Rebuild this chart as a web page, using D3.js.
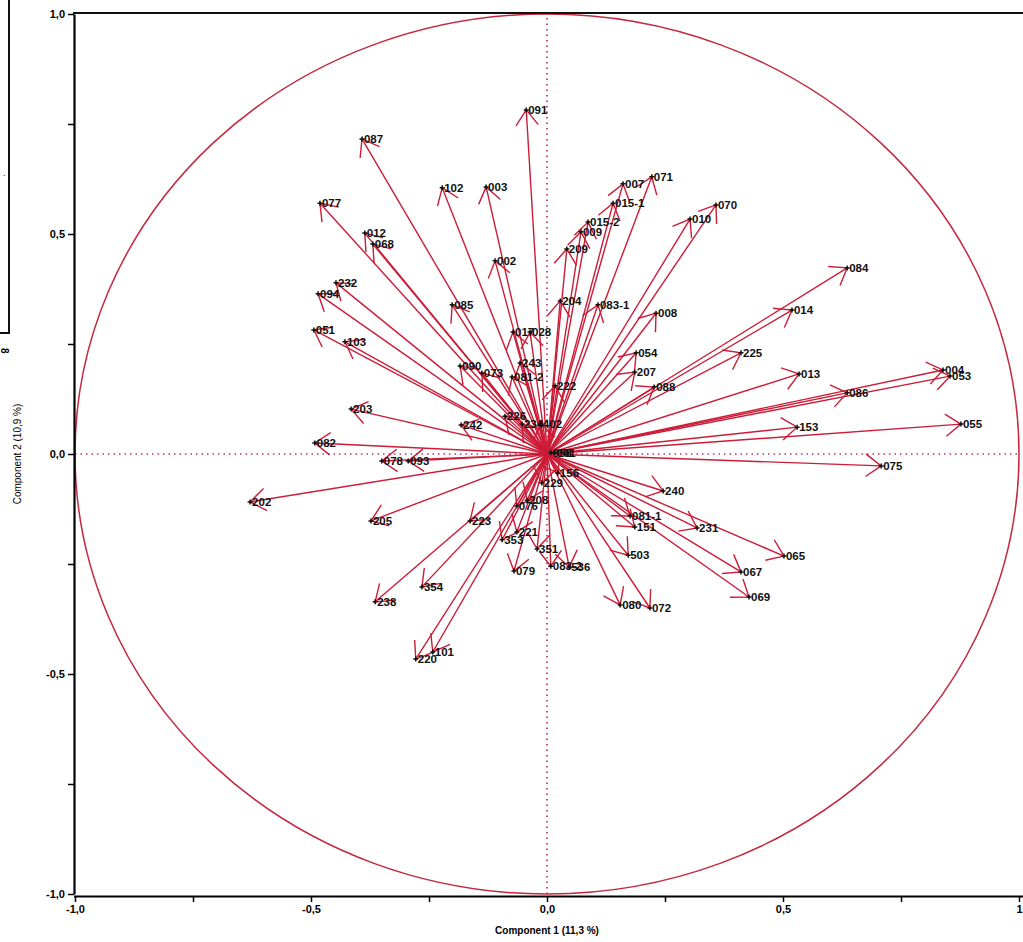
<!DOCTYPE html>
<html>
<head>
<meta charset="utf-8">
<script src="https://cdn.jsdelivr.net/npm/d3@7"></script>
<style>
  body { margin: 0; background: #fff; }
  svg { display: block; }
  .tick text { font-family: Arial, "Liberation Sans", sans-serif; font-weight: bold; font-size: 11px; }
</style>
</head>
<body>
<div id="chart"></div>
<script>
// loadings (component 1, component 2)
const labels = ['091', '087', '102', '003', '077', '012', '068', '002', '232', '094',
  '085', '051', '103', '017', '028', '090', '073', '243', '081-2', '222',
  '203', '242', '226', '234', '402', '082', '078', '093', '202', '205',
  '223', '208', '076', '221', '353', '351', '079', '083-2', '536', '354',
  '238', '220', '101', '229', '156', '240', '081-1', '151', '231', '503',
  '065', '067', '069', '080', '072', '075', '055', '153', '086', '004',
  '053', '013', '225', '014', '084', '008', '054', '207', '088', '083-1',
  '204', '209', '009', '015-2', '015-1', '007', '071', '010', '070', '058', '061'];
const pc1 = [-0.044, -0.392, -0.222, -0.129, -0.481, -0.386, -0.369, -0.110, -0.447, -0.485,
  -0.201, -0.494, -0.428, -0.072, -0.036, -0.184, -0.138, -0.057, -0.074, 0.017,
  -0.415, -0.182, -0.089, -0.053, -0.013, -0.492, -0.350, -0.294, -0.629, -0.373,
  -0.163, -0.042, -0.064, -0.064, -0.095, -0.021, -0.070, 0.008, 0.047, -0.265,
  -0.364, -0.278, -0.242, -0.011, 0.023, 0.246, 0.176, 0.186, 0.318, 0.172,
  0.502, 0.411, 0.428, 0.155, 0.218, 0.708, 0.877, 0.530, 0.636, 0.839,
  0.854, 0.534, 0.411, 0.519, 0.636, 0.231, 0.189, 0.186, 0.227, 0.108,
  0.028, 0.042, 0.072, 0.087, 0.140, 0.161, 0.222, 0.303, 0.358, 0.008, 0.016];
const pc2 = [0.782, 0.716, 0.605, 0.607, 0.570, 0.502, 0.477, 0.439, 0.389, 0.364,
  0.339, 0.282, 0.255, 0.277, 0.277, 0.200, 0.184, 0.207, 0.175, 0.155,
  0.102, 0.066, 0.086, 0.068, 0.068, 0.025, -0.016, -0.016, -0.109, -0.152,
  -0.152, -0.105, -0.118, -0.177, -0.195, -0.216, -0.266, -0.255, -0.257, -0.302,
  -0.336, -0.466, -0.450, -0.066, -0.043, -0.084, -0.141, -0.166, -0.168, -0.230,
  -0.232, -0.268, -0.325, -0.343, -0.350, -0.027, 0.068, 0.061, 0.139, 0.191,
  0.177, 0.182, 0.230, 0.327, 0.423, 0.320, 0.230, 0.186, 0.152, 0.339,
  0.348, 0.466, 0.505, 0.527, 0.570, 0.614, 0.630, 0.534, 0.566, 0.003, 0.003];

const xTicks = [-1, -0.75, -0.5, -0.25, 0, 0.25, 0.5, 0.75, 1];
const yTicks = [-1, -0.75, -0.5, -0.25, 0, 0.25, 0.5, 0.75, 1];
const xTickLabels = {'-1': '-1,0', '-0.5': '-0,5', '0': '0,0', '0.5': '0,5', '1': '1'};
const yTickLabels = {'-1': '-1,0', '-0.5': '-0,5', '0': '0,0', '0.5': '0,5', '1': '1,0'};

const width = 1023, height = 942;
const margin = { top: 14, right: 4, bottom: 48, left: 75 };
const red = '#cc1c38';

const svg = d3.select('#chart').append('svg')
  .attr('width', width)
  .attr('height', height);

const x = d3.scaleLinear().domain([-1, 1]).range([margin.left, width - margin.right]);
const y = d3.scaleLinear().domain([-1, 1]).range([height - margin.bottom, margin.top]);

// piece of the neighbouring panel cut off at the left edge
svg.append('path')
  .attr('d', 'M0,333H9V0')
  .attr('fill', 'none')
  .attr('stroke', '#111')
  .attr('stroke-width', 2);
svg.append('text').attr('x', 5).attr('y', 352)
  .attr('transform', 'rotate(90,5,348)')
  .style('font', 'bold 10px Arial, sans-serif').text('8');
svg.append('text').attr('x', 3).attr('y', 176)
  .style('font', '9px Arial, sans-serif').text('.');

// unit circle (ellipse in pixels because the scales differ)
svg.append('ellipse')
  .attr('cx', x(0)).attr('cy', y(0))
  .attr('rx', x(1) - x(0)).attr('ry', y(0) - y(1))
  .attr('fill', 'none')
  .attr('stroke', '#c4283f')
  .attr('stroke-width', 1.5);

// dotted origin lines
svg.append('line')
  .attr('x1', x(-1)).attr('x2', x(1)).attr('y1', y(0)).attr('y2', y(0))
  .attr('stroke', '#c0306a').attr('stroke-width', 1.7).attr('stroke-dasharray', '1.5,4');
svg.append('line')
  .attr('x1', x(0)).attr('x2', x(0)).attr('y1', y(-1)).attr('y2', y(1))
  .attr('stroke', '#c0306a').attr('stroke-width', 1.7).attr('stroke-dasharray', '1.5,4');

// axes
const xAxis = svg.append('g')
  .attr('transform', `translate(0,${y(-1) + 2})`)
  .call(d3.axisBottom(x).tickValues(xTicks).tickSize(6).tickSizeOuter(0)
    .tickFormat(d => xTickLabels[String(d)] || ''));
xAxis.select('.domain').attr('stroke-width', 2.2).attr('d', `M${margin.left - 1},0.5H${width}`);
xAxis.selectAll('.tick line').attr('stroke-width', 1.5);

const yAxis = svg.append('g')
  .attr('transform', `translate(${x(-1) - 1},0)`)
  .call(d3.axisLeft(y).tickValues(yTicks).tickSize(6).tickSizeOuter(0)
    .tickFormat(d => yTickLabels[String(d)] || ''));
yAxis.select('.domain').attr('stroke-width', 2.2);
yAxis.selectAll('.tick line').attr('stroke-width', 1.5);

// top frame line
svg.append('line')
  .attr('x1', x(-1) - 2).attr('x2', width).attr('y1', y(1) - 1).attr('y2', y(1) - 1)
  .attr('stroke', '#111').attr('stroke-width', 2);

svg.append('text')
  .attr('x', x(0)).attr('y', 934)
  .attr('text-anchor', 'middle')
  .style('font', 'bold 10px "Liberation Sans Narrow", Arial, sans-serif')
  .text('Component 1  (11,3 %)');
svg.append('text')
  .attr('transform', `translate(21,${y(0)}) rotate(-90)`)
  .attr('text-anchor', 'middle')
  .style('font', '10px "Liberation Sans Narrow", Arial, sans-serif')
  .text('Component 2 (10,9 %)');

// loading vectors
const pts = labels.map((l, i) => ({ label: l, px: x(pc1[i]), py: y(pc2[i]) }));
const ox = x(0), oy = y(0);

const vec = svg.append('g').attr('class', 'vectors');
vec.selectAll('line')
  .data(pts)
  .enter()
  .append('line')
  .attr('x1', ox).attr('y1', oy)
  .attr('x2', d => d.px).attr('y2', d => d.py)
  .attr('stroke', red)
  .attr('stroke-width', 1.4);

const headLen = 19, headAng = Math.PI / 5;
vec.selectAll('path')
  .data(pts)
  .enter()
  .append('path')
  .attr('d', d => {
    const a = Math.atan2(d.py - oy, d.px - ox);
    const len = Math.hypot(d.px - ox, d.py - oy);
    const h = Math.min(headLen, len * 0.9);
    const p1 = [d.px - h * Math.cos(a - headAng), d.py - h * Math.sin(a - headAng)];
    const p2 = [d.px - h * Math.cos(a + headAng), d.py - h * Math.sin(a + headAng)];
    return `M${p1}L${d.px},${d.py}L${p2}`;
  })
  .attr('fill', 'none')
  .attr('stroke', red)
  .attr('stroke-width', 1.4);

// end markers and names
const lab = svg.append('g').attr('class', 'labels');
lab.selectAll('path')
  .data(pts)
  .enter()
  .append('path')
  .attr('d', d => `M${d.px - 2.5},${d.py}h5M${d.px},${d.py - 2.5}v5`)
  .attr('stroke', '#111')
  .attr('stroke-width', 1.5);
lab.selectAll('text')
  .data(pts)
  .enter()
  .append('text')
  .attr('x', d => d.px + 2)
  .attr('y', d => d.py + 4)
  .style('font', '600 11.5px Arial, "Liberation Sans", sans-serif')
  .style('fill', '#111')
  .text(d => d.label);
</script>
</body>
</html>
